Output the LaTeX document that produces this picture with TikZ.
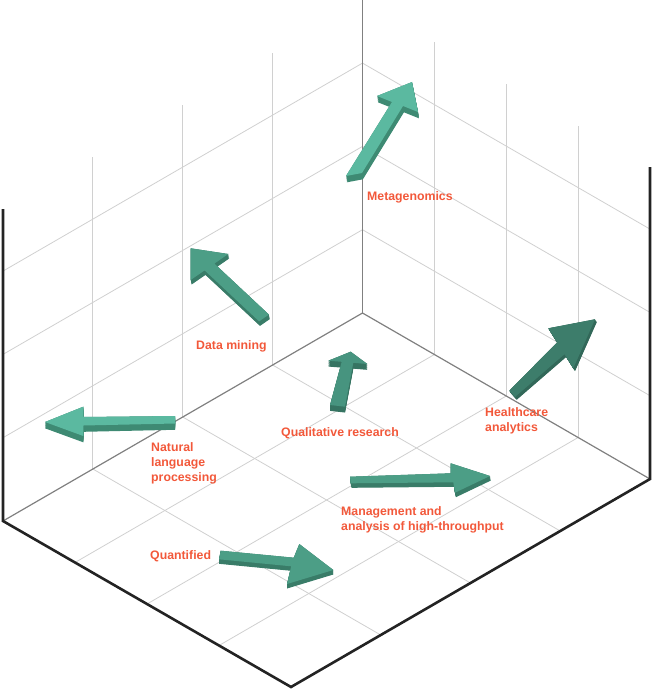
\documentclass[tikz,border=0pt]{standalone}
\usepackage{fontspec}
\setmainfont{Liberation Sans}
\usepackage{tikz}
\usetikzlibrary{calc}
\definecolor{tagred}{RGB}{242,88,58}
\definecolor{gridgray}{RGB}{208,208,208}
\definecolor{axisgray}{RGB}{128,128,128}
\definecolor{framedark}{RGB}{35,35,35}
\definecolor{tealA}{RGB}{91,185,160}
\definecolor{tealAside}{RGB}{62,138,115}
\definecolor{tealB}{RGB}{76,158,134}
\definecolor{tealBside}{RGB}{57,124,104}
\definecolor{tealC}{RGB}{71,148,127}
\definecolor{tealCside}{RGB}{54,116,98}
\definecolor{tealD}{RGB}{61,125,107}
\definecolor{tealDside}{RGB}{50,104,89}
% top colour, side colour, shift x, shift y, outline
\newcommand{\slabarrow}[5]{%
  \foreach \s in {0,0.1,...,1}{\fill[#2, shift={(\s*#3,\s*#4)}] #5;}
  \fill[#1] #5;}

\begin{document}
\begin{tikzpicture}[
    x=1pt, y=-1pt,
    gridline/.style={draw=gridgray, line width=0.8pt},
    axisline/.style={draw=axisgray, line width=1.2pt},
    frameline/.style={draw=framedark, line width=2.6pt, line join=miter},
    tag/.style={text=tagred, font=\bfseries\fontsize{12.3}{15}\selectfont, align=left, anchor=north west, inner sep=0pt}
]
\useasboundingbox (0,0) rectangle (653,690);
\coordinate (B) at (362.5,313);
\coordinate (L) at (3,521);
\coordinate (F) at (291,687);
\coordinate (R) at (650,479);

\foreach \k in {1,2,3} {
  \draw[gridline] ($(B)!\k/4!(L)$) -- ++(0,-312);
  \draw[gridline] ($(B)!\k/4!(R)$) -- ++(0,-312);
  \draw[gridline] ($(B)+(0,-\k*83.3)$) -- ($(L)+(0,-\k*83.3)$);
  \draw[gridline] ($(B)+(0,-\k*83.3)$) -- ($(R)+(0,-\k*83.3)$);
  \draw[gridline] ($(B)!\k/4!(L)$) -- ($(R)!\k/4!(F)$);
  \draw[gridline] ($(B)!\k/4!(R)$) -- ($(L)!\k/4!(F)$);
}
\draw[axisline] (B) -- ++(0,-313);
\draw[axisline] (L) -- (B) -- (R);
\draw[frameline] ($(L)+(0,-312)$) -- (L) -- (F) -- (R) -- ++(0,-312);

\slabarrow{tealA}{tealAside}{1}{7}{(346,176) -- (362,173) -- (403,106) -- (418,112) -- (412,82) -- (377,96) -- (392,102) -- cycle}
\slabarrow{tealB}{tealBside}{1}{5}{(190.7,248.3) -- (190.7,280) -- (204.6,270.4) -- (259.1,321.4) -- (268.9,314.6) -- (214.4,263.6) -- (228.3,254) -- cycle}
\slabarrow{tealA}{tealAside}{0}{7}{(45,422) -- (83.3,406.7) -- (83.3,417) -- (175,416) -- (175,423.5) -- (83.3,425.5) -- (83.3,436) -- cycle}
\slabarrow{tealC}{tealCside}{0}{6.5}{(350.7,351.7) -- (367.3,364) -- (353.3,362.8) -- (345,406.7) -- (330,405) -- (341.7,361.8) -- (328.3,360.7) -- cycle}
\slabarrow{tealD}{tealDside}{2}{3}{(595,319.3) -- (548.3,328.3) -- (557.1,342.4) -- (509.3,390.7) -- (515,397) -- (564.5,354.2) -- (573.3,368.3) -- cycle}
\slabarrow{tealB}{tealBside}{1}{5}{(350,476.7) -- (450.7,473.3) -- (450.7,463.3) -- (490,476) -- (455,492.7) -- (453.3,482.3) -- (350.7,483.3) -- cycle}
\slabarrow{tealB}{tealBside}{0}{5}{(220.7,550.7) -- (293.8,557.7) -- (299.3,544) -- (333.3,570) -- (287,584) -- (291.2,566.3) -- (219,559.3) -- cycle}

\node[tag] (metagenomics) at (367,191) {Metagenomics};
\node[tag] (datamining) at (196,340) {Data mining};
\node[tag] (nlp) at (151,442.7) {Natural\\language\\processing};
\node[tag] (qualitative) at (281,427) {Qualitative research};
\node[tag] (healthcare) at (485,407) {Healthcare\\analytics};
\node[tag] (management) at (341,506.5) {Management and\\analysis of high-throughput};
\node[tag] (quantified) at (150,550.5) {Quantified};
\end{tikzpicture}
\end{document}
